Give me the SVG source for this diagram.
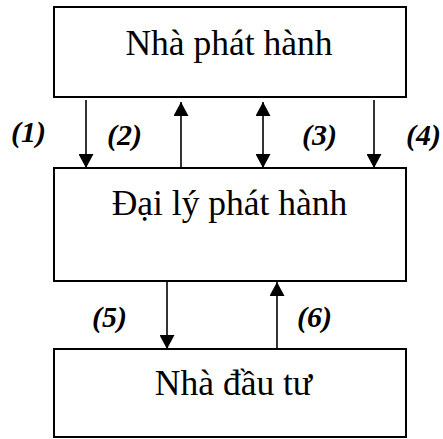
<svg xmlns="http://www.w3.org/2000/svg" width="443" height="439" viewBox="0 0 443 439">
  <style>
    .box { fill: #ffffff; stroke: #000000; stroke-width: 2; }
    .title { font-size: 35.5px; fill: #000000; text-anchor: middle; }
    .num { font-size: 30px; font-weight: bold; font-style: italic; fill: #000000; }
    .link { stroke: #000000; stroke-width: 1.6; fill: none; }
  </style>
  <defs>
    <marker id="head" viewBox="0 0 14 15" refX="14" refY="7.5" markerWidth="14" markerHeight="15" markerUnits="userSpaceOnUse" orient="auto-start-reverse">
      <path d="M0,0 L14,7.5 L0,15 Z" fill="#000000"/>
    </marker>
  </defs>

  <rect width="443" height="439" fill="#ffffff"/>

  <g font-family="Liberation Serif, Times New Roman, Tinos, Noto Serif, DejaVu Serif, serif">
    <g id="issuer">
      <rect class="box" x="54" y="7" width="352" height="90"/>
      <text class="title" x="229" y="55">Nhà phát hành</text>
    </g>

    <g id="agent">
      <rect class="box" x="54" y="168" width="352" height="113"/>
      <text class="title" x="229.5" y="215">Đại lý phát hành</text>
    </g>

    <g id="investor">
      <rect class="box" x="54" y="349" width="352" height="88"/>
      <text class="title" x="233.5" y="395">Nhà đầu tư</text>
    </g>

    <g id="connectors">
      <line class="link" x1="86" y1="100" x2="86" y2="168" marker-end="url(#head)"/>
      <line class="link" x1="181" y1="168" x2="181" y2="102" marker-end="url(#head)"/>
      <line class="link" x1="263" y1="102" x2="263" y2="168" marker-start="url(#head)" marker-end="url(#head)"/>
      <line class="link" x1="374" y1="100" x2="374" y2="168" marker-end="url(#head)"/>
      <line class="link" x1="167" y1="281" x2="167" y2="349" marker-end="url(#head)"/>
      <line class="link" x1="277" y1="349" x2="277" y2="282" marker-end="url(#head)"/>
    </g>

    <g id="labels">
      <text class="num" x="11" y="142">(1)</text>
      <text class="num" x="107" y="145">(2)</text>
      <text class="num" x="302" y="145">(3)</text>
      <text class="num" x="406" y="145">(4)</text>
      <text class="num" x="92" y="327">(5)</text>
      <text class="num" x="297" y="327">(6)</text>
    </g>
  </g>
</svg>
